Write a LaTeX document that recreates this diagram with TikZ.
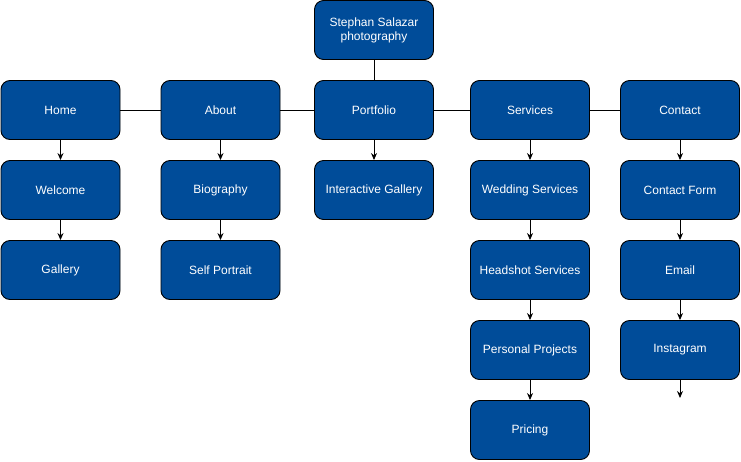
\documentclass[tikz,border=0pt]{standalone}
\usepackage{fontspec}
\setmainfont{Liberation Sans}
\usetikzlibrary{arrows.meta}
\definecolor{boxblue}{HTML}{004C99}
\begin{document}
\begin{tikzpicture}[x=1pt,y=-1pt,
  pbox/.style={draw=black, line width=0.9pt, fill=boxblue, rounded corners=9pt,
    minimum width=119pt, minimum height=59pt, inner sep=0pt, text=white,
    font=\fontsize{12}{14}\selectfont, align=center},
  link/.style={draw=black, line width=0.9pt},
  arr/.style={link, -{Stealth[length=7pt,width=6pt]}}]
\useasboundingbox (0,0) rectangle (741,461);
\node[pbox] (top) at (374,30) {Stephan Salazar\\photography};
\node[pbox] (home) at (60.5,110) {Home};
\node[pbox] (about) at (220.5,110) {About};
\node[pbox] (port) at (374,110) {Portfolio};
\node[pbox] (serv) at (530,110) {Services};
\node[pbox] (cont) at (680,110) {Contact};
\node[pbox] (welc) at (60.5,190) {Welcome};
\node[pbox] (gall) at (60.5,270) {Gallery};
\node[pbox] (bio) at (220.5,190) {Biography};
\node[pbox] (self) at (220.5,270) {Self Portrait};
\node[pbox] (inter) at (374,190) {Interactive Gallery};
\node[pbox] (wed) at (530,190) {Wedding Services};
\node[pbox] (head) at (530,270) {Headshot Services};
\node[pbox] (pers) at (530,350) {Personal Projects};
\node[pbox] (pric) at (530,430) {Pricing};
\node[pbox] (cform) at (680,190) {Contact Form};
\node[pbox] (email) at (680,270) {Email};
\node[pbox] (insta) at (680,350) {Instagram};
\coordinate (iend) at (680,398);
\draw[link] (top) -- (port);
\draw[link] (home) -- (about);
\draw[link] (about) -- (port);
\draw[link] (port) -- (serv);
\draw[link] (serv) -- (cont);
\draw[arr] (home) -- (welc);
\draw[arr] (welc) -- (gall);
\draw[arr] (about) -- (bio);
\draw[arr] (bio) -- (self);
\draw[arr] (port) -- (inter);
\draw[arr] (serv) -- (wed);
\draw[arr] (wed) -- (head);
\draw[arr] (head) -- (pers);
\draw[arr] (pers) -- (pric);
\draw[arr] (cont) -- (cform);
\draw[arr] (cform) -- (email);
\draw[arr] (email) -- (insta);
\draw[arr] (insta.south) -- (iend);
\end{tikzpicture}
\end{document}
